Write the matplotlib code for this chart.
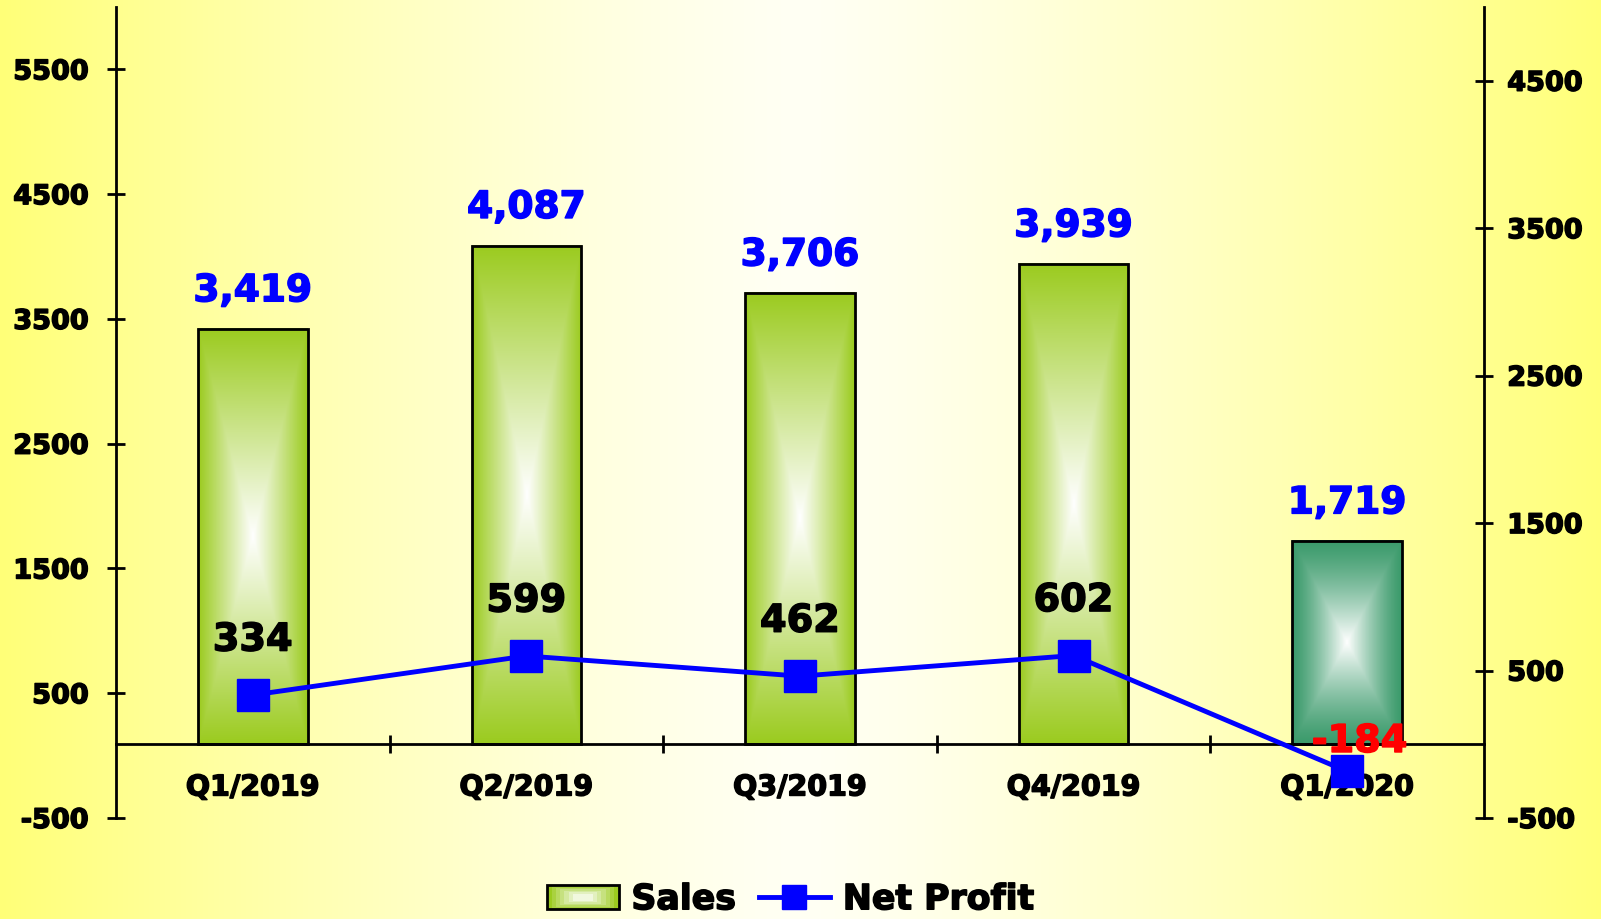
import numpy as np
import matplotlib
matplotlib.use('Agg')
import matplotlib.pyplot as plt
import matplotlib.patheffects as pe
from matplotlib.lines import Line2D
from matplotlib.patches import Rectangle
from matplotlib.legend_handler import HandlerBase
from matplotlib.colors import to_rgb

# Data
quarters = ['Q1/2019', 'Q2/2019', 'Q3/2019', 'Q4/2019', 'Q1/2020']
sales = [3419, 4087, 3706, 3939, 1719]
net_profit = [334, 599, 462, 602, -184]
sales_ticks = [-500, 500, 1500, 2500, 3500, 4500, 5500]
profit_ticks = [-500, 500, 1500, 2500, 3500, 4500]

plt.rcParams['font.family'] = ['DejaVu Sans']
plt.rcParams['font.weight'] = 'bold'
plt.rcParams['axes.unicode_minus'] = False

GREEN = np.array(to_rgb('#9bcb1f'))
TEAL = np.array(to_rgb('#3c9b6c'))
WHITE = np.array([1.0, 1.0, 1.0])
BLUE = '#0000ff'


def heavy(color):
    # a thin outline in the same colour makes the bold text look heavier
    return [pe.withStroke(linewidth=1.1, foreground=color)]


def box_gradient(edge, n=240, m=80, p=1.0):
    # concentric rectangles: edge colour outside, white in the middle
    u = np.abs(np.linspace(-1, 1, m))
    v = np.abs(np.linspace(-1, 1, n))
    t = np.maximum(u[None, :], v[:, None])
    w = (1 - t) ** p
    return edge[None, None, :] + (WHITE - edge)[None, None, :] * w[:, :, None]


class GradientBoxHandler(HandlerBase):
    def create_artists(self, legend, orig_handle, xdescent, ydescent,
                       width, height, fontsize, trans):
        arts = []
        steps = 7
        x0, y0 = -xdescent, -ydescent
        for i in range(steps):
            f = i / steps
            col = GREEN + (WHITE - GREEN) * f
            dx = width * f * 0.42
            dy = height * f * 0.42
            arts.append(Rectangle((x0 + dx, y0 + dy), width - 2 * dx, height - 2 * dy,
                                  facecolor=col, edgecolor='none', transform=trans))
        arts.append(Rectangle((x0, y0), width, height, facecolor='none',
                              edgecolor='black', linewidth=2, transform=trans))
        return arts


fig = plt.figure(figsize=(16.01, 9.19), dpi=100)

# background: yellow at the sides, white in the middle
bg = fig.add_axes([0, 0, 1, 1], zorder=-10)
xs = np.linspace(-1, 1, 800)
t = np.abs(xs) ** 1.3
yellow = np.array(to_rgb('#ffff78'))
white = np.array(to_rgb('#fffff4'))
grad = white[None, :] + (yellow - white)[None, :] * t[:, None]
bg.imshow(grad[None, :, :], aspect='auto', extent=[0, 1, 0, 1])
bg.set_xlim(0, 1)
bg.set_ylim(0, 1)
bg.axis('off')

ax = fig.add_axes([0.07245, 0.1099, 0.85447, 0.88248])
ax.set_facecolor('none')
ax2 = ax.twinx()

lo, hi = -500, 6000
lo2, hi2 = -500, 5000
# bars start where the category axis sits (profit = 0)
base = lo + (0 - lo2) / (hi2 - lo2) * (hi - lo)

x = np.arange(len(quarters))
bars = ax.bar(x, np.array(sales) - base, bottom=base, width=0.4,
              facecolor='none', edgecolor='black', linewidth=2, zorder=3)

for i, b in enumerate(bars):
    last = i == len(bars) - 1
    edge = TEAL if last else GREEN
    x0, y0 = b.get_x(), b.get_y()
    ax.imshow(box_gradient(edge, p=1.3 if last else 1.0), aspect='auto', zorder=2,
              extent=[x0, x0 + b.get_width(), y0, y0 + b.get_height()])

ax.set_xlim(-0.5, len(quarters) - 0.5)
ax.set_ylim(lo, hi)
ax2.set_ylim(lo2, hi2)

# profit line
ax2.plot(x, net_profit, color=BLUE, lw=3.5, marker='s', markersize=23, zorder=5)

for xi, s in zip(x, sales):
    ax.annotate(f'{s:,}', (xi, s), xytext=(0, 20), textcoords='offset points',
                ha='center', va='baseline', color=BLUE, fontsize=27,
                fontweight='bold', zorder=6, path_effects=heavy(BLUE))

for xi, p in zip(x, net_profit):
    if p >= 0:
        off, col = (0, 32), 'black'
    else:
        off, col = (9, 14), '#ff0000'
    ax2.annotate(f'{p:,}', (xi, p), xytext=off, textcoords='offset points',
                 ha='center', va='baseline', color=col, fontsize=27.5,
                 fontweight='bold', zorder=7, path_effects=heavy(col))

# axes styling
for s in ['top', 'right']:
    ax.spines[s].set_visible(False)
for s in ['top', 'left', 'bottom']:
    ax2.spines[s].set_visible(False)
ax.spines['left'].set_linewidth(2)
ax.spines['bottom'].set_linewidth(2)
ax2.spines['right'].set_linewidth(2)
ax.spines['bottom'].set_position(('data', base))

ax.set_yticks(sales_ticks)
ax.tick_params(axis='y', direction='inout', length=13.5, width=2, labelsize=19.5, pad=13)
ax2.set_yticks(profit_ticks)
ax2.tick_params(axis='y', direction='inout', length=13.5, width=2, labelsize=19.5, pad=10)

ax.set_xticks(x)
ax.set_xticklabels(quarters)
ax.set_xticks(x[:-1] + 0.5, minor=True)
ax.tick_params(axis='x', which='major', length=0, labelsize=20.5, pad=21)
ax.tick_params(axis='x', which='minor', direction='inout', length=13.5, width=2)

for lbl in ax.get_xticklabels() + ax.get_yticklabels() + ax2.get_yticklabels():
    lbl.set_path_effects(heavy('black'))

# legend
sales_handle = Rectangle((0, 0), 1, 1, facecolor=GREEN, edgecolor='black')
profit_handle = Line2D([], [], color=BLUE, lw=3.5, marker='s', markersize=17)
leg = fig.legend([sales_handle, profit_handle], ['Sales', 'Net Profit'],
                 loc='lower center', bbox_to_anchor=(0.494, 0.003), ncol=2,
                 frameon=False, fontsize=25, handlelength=2.05, handleheight=0.72,
                 handletextpad=0.37, columnspacing=0.66, borderpad=0,
                 borderaxespad=0, handler_map={Rectangle: GradientBoxHandler()})
for txt in leg.get_texts():
    txt.set_path_effects(heavy('black'))

fig.savefig('out.png', dpi=100)
